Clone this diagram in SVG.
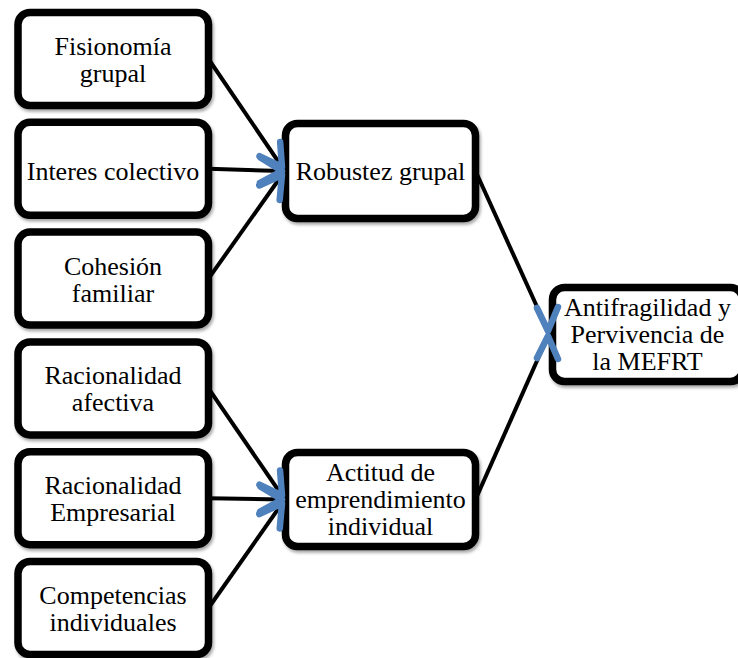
<svg xmlns="http://www.w3.org/2000/svg" width="738" height="658" viewBox="0 0 738 658">
  <defs>
    <filter id="shadow" x="-10%" y="-10%" width="125%" height="130%">
      <feDropShadow dx="1.5" dy="2.5" stdDeviation="1.5" flood-color="#000" flood-opacity="0.35"/>
    </filter>
  </defs>
  <style>
    .box { fill: #ffffff; stroke: #000000; stroke-width: 7.5; filter: url(#shadow); }
    .lbl { font-family: 'Liberation Serif', 'DejaVu Serif', serif; font-size: 26px; fill: #000000; text-anchor: middle; }
    .link { stroke: #000000; stroke-width: 4; fill: none; }
    .head { stroke: #4F81BD; stroke-width: 6.5; fill: none; stroke-linecap: round; stroke-linejoin: round; }
  </style>
  <rect width="738" height="658" fill="#ffffff"/>

  <g font-family="Liberation Serif, DejaVu Serif, serif">
    <!-- factor nodes -->
    <g id="fisionomia">
      <rect class="box" x="18" y="12.5" width="190.5" height="93" rx="12"/>
      <text class="lbl" x="113" y="55">Fisionomía</text>
      <text class="lbl" x="113" y="82">grupal</text>
    </g>
    <g id="interes">
      <rect class="box" x="18" y="122.3" width="190.5" height="93" rx="12"/>
      <text class="lbl" x="113" y="180">Interes colectivo</text>
    </g>
    <g id="cohesion">
      <rect class="box" x="18" y="232.1" width="190.5" height="93" rx="12"/>
      <text class="lbl" x="113" y="274.5">Cohesión</text>
      <text class="lbl" x="113" y="301.5">familiar</text>
    </g>
    <g id="racionalidad-afectiva">
      <rect class="box" x="18" y="341.9" width="190.5" height="93" rx="12"/>
      <text class="lbl" x="113" y="384">Racionalidad</text>
      <text class="lbl" x="113" y="411">afectiva</text>
    </g>
    <g id="racionalidad-empresarial">
      <rect class="box" x="18" y="451.7" width="190.5" height="93" rx="12"/>
      <text class="lbl" x="113" y="494">Racionalidad</text>
      <text class="lbl" x="113" y="521">Empresarial</text>
    </g>
    <g id="competencias">
      <rect class="box" x="18" y="561.5" width="190.5" height="93" rx="12"/>
      <text class="lbl" x="113" y="603.5">Competencias</text>
      <text class="lbl" x="113" y="630.5">individuales</text>
    </g>

    <!-- intermediate nodes -->
    <g id="robustez">
      <rect class="box" x="285.5" y="123.5" width="190" height="95" rx="12"/>
      <text class="lbl" x="380.5" y="179.5">Robustez grupal</text>
    </g>
    <g id="actitud">
      <rect class="box" x="285.5" y="452.5" width="190" height="94" rx="12"/>
      <text class="lbl" x="380.5" y="481">Actitud de</text>
      <text class="lbl" x="380.5" y="508">emprendimiento</text>
      <text class="lbl" x="380.5" y="535">individual</text>
    </g>

    <!-- outcome node -->
    <g id="antifragilidad">
      <rect class="box" x="552.5" y="287.5" width="190" height="94" rx="12"/>
      <text class="lbl" x="647.5" y="316">Antifragilidad y</text>
      <text class="lbl" x="647.5" y="343">Pervivencia de</text>
      <text class="lbl" x="647.5" y="370">la MEFRT</text>
    </g>
  </g>

  <!-- connectors: black lines with open blue arrowheads drawn over the target edge -->
  <g id="connectors">
    <line class="link" x1="208.5" y1="59" x2="282" y2="167"/>
    <line class="link" x1="208.5" y1="168.8" x2="282" y2="171"/>
    <line class="link" x1="208.5" y1="278.6" x2="282" y2="175"/>
    <line class="link" x1="208.5" y1="388.4" x2="282" y2="495.5"/>
    <line class="link" x1="208.5" y1="498.2" x2="282" y2="499.5"/>
    <line class="link" x1="208.5" y1="608" x2="282" y2="503.5"/>
    <line class="link" x1="475.5" y1="171" x2="548" y2="331"/>
    <line class="link" x1="475.5" y1="499.5" x2="548" y2="336"/>

    <path class="head" d="M 259.49 156.13 L 282 167 L 280.15 142.07"/>
    <path class="head" d="M 259.99 182.85 L 282 171 L 260.73 157.85"/>
    <path class="head" d="M 279.67 199.89 L 282 175 L 259.27 185.43"/>
    <path class="head" d="M 259.44 484.72 L 282 495.5 L 280.06 470.58"/>
    <path class="head" d="M 260.13 511.62 L 282 499.5 L 260.57 486.62"/>
    <path class="head" d="M 279.76 528.40 L 282 503.5 L 259.32 514.02"/>
    <path class="head" d="M 537 308 L 548 331 L 558 307"/>
    <path class="head" d="M 537 358 L 548 336 L 558 359"/>
  </g>
</svg>
